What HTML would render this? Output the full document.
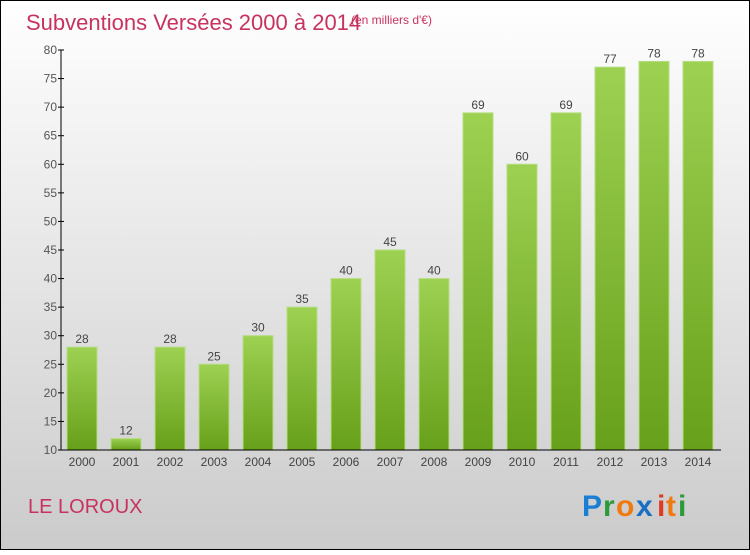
<!DOCTYPE html>
<html><head><meta charset="utf-8"><style>
html,body{margin:0;padding:0}
body{width:750px;height:550px;overflow:hidden;font-family:"Liberation Sans",sans-serif}
</style></head><body>
<svg width="750" height="550" xmlns="http://www.w3.org/2000/svg">
<defs>
<linearGradient id="bg" x1="0" y1="0" x2="0" y2="1"><stop offset="0" stop-color="#ffffff"/><stop offset="1" stop-color="#cbcbcb"/></linearGradient>
<linearGradient id="bar" x1="0" y1="0" x2="0" y2="1"><stop offset="0" stop-color="#9dd152"/><stop offset="1" stop-color="#67a01a"/></linearGradient>
</defs>
<rect x="0.5" y="0.5" width="749" height="549" fill="url(#bg)" stroke="#000"/>
<text x="26" y="30" font-size="22" fill="#c8325f">Subventions Versées 2000 à 2014</text>
<text x="351" y="24" font-size="12" fill="#c8325f">(en milliers d'€)</text>
<g id="yaxis"></g>
<g id="bars"></g>
<g id="xaxis"></g>
<text x="28" y="513" font-size="20" fill="#c8325f">LE LOROUX</text>
<g font-size="30" font-weight="bold">
<text x="582" y="516" fill="#1a7fd4">P</text><text x="603" y="516" fill="#2a9a3a">r</text><text x="616" y="516" fill="#f07a10">o</text><text x="636" y="516" fill="#1a6fc4">x</text><text x="657" y="516" fill="#e03a20">i</text><text x="666" y="516" fill="#f07a10">t</text><text x="678" y="516" fill="#2a9a3a">i</text>
</g>
</svg>
<script>
const categories=["2000","2001","2002","2003","2004","2005","2006","2007","2008","2009","2010","2011","2012","2013","2014"];
const values=[28,12,28,25,30,35,40,45,40,69,60,69,77,78,78];
const yTicks=[10,15,20,25,30,35,40,45,50,55,60,65,70,75,80];
const NS="http://www.w3.org/2000/svg";
const y0=450,y1=50,vmin=10,vmax=80,x0=61,x1=721;
function y(v){return y0-(v-vmin)/(vmax-vmin)*(y0-y1);}
function xc(i){return 82+i*44;}
function mk(tag,attrs,parent){const e=document.createElementNS(NS,tag);for(const k in attrs)e.setAttribute(k,attrs[k]);parent.appendChild(e);return e;}
const ya=document.getElementById('yaxis'),ba=document.getElementById('bars'),xa=document.getElementById('xaxis');
let l=mk('line',{x1:x0,y1:y1,x2:x0,y2:y0,stroke:'#000'},ya);


yTicks.forEach(t=>{
 const tk=mk('line',{x1:x0-3,y1:y(t),x2:x0+3,y2:y(t),stroke:'#000'},ya);
 
 
 const tx=mk('text',{x:x0-4,y:y(t)+4,'font-size':12,fill:'#555','text-anchor':'end'},ya);
 tx.textContent=t;
 
 
});
categories.forEach((c,i)=>{
 const v=values[i];
 const r=mk('rect',{x:xc(i)-15,y:y(v),width:30,height:y0-y(v),fill:'url(#bar)',stroke:'#b5dd80','stroke-width':1},ba);
 
 
 const vt=mk('text',{x:xc(i),y:y(v)-4,'font-size':12,fill:'#444','text-anchor':'middle'},ba);
 vt.textContent=v;
 
 
 const xt=mk('text',{x:xc(i),y:466,'font-size':12,fill:'#444','text-anchor':'middle'},xa);
 xt.textContent=c;
 
 
});
const xl=mk('line',{x1:x0,y1:y0,x2:x1,y2:y0,stroke:'#000'},xa);


</script>
</body></html>
